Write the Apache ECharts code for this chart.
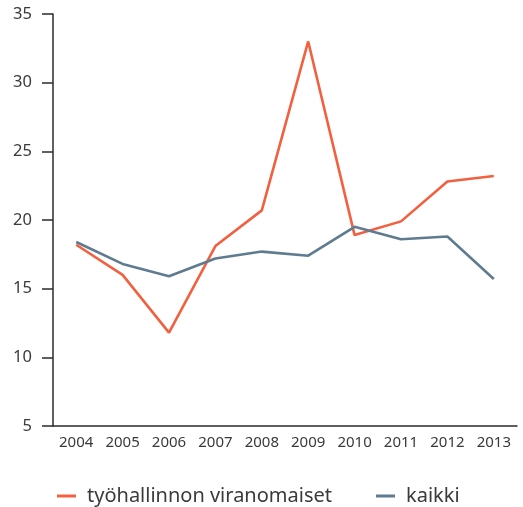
<!DOCTYPE html>
<html>
<head>
<meta charset="utf-8">
<script src="https://cdn.jsdelivr.net/npm/echarts@6/dist/echarts.min.js"></script>
<style>
  html, body { margin: 0; padding: 0; background: #fff; }
  #chart { width: 523px; height: 507px; }
</style>
</head>
<body>
<div id="chart"></div>
<script>
// 年份 & 两条序列
const years = ['2004', '2005', '2006', '2007', '2008', '2009', '2010', '2011', '2012', '2013'];
const viranomaiset = [18.2, 16.0, 11.8, 18.1, 20.7, 33.0, 18.9, 19.9, 22.8, 23.2];
const kaikki = [18.4, 16.8, 15.9, 17.2, 17.7, 17.4, 19.5, 18.6, 18.8, 15.7];

const ORANGE = '#f2603f', SLATE = '#5f7b90';
const AXIS = '#2b2b2b', TEXT = '#3a3a3a';
const FONT = '"Noto Sans", "Open Sans", sans-serif';

const chart = echarts.init(document.getElementById('chart'), null, { renderer: 'canvas' });
chart.setOption({
  animation: false,
  grid: { left: 53, right: 6, top: 14, bottom: 81, containLabel: false },
  legend: {
    left: 52, top: 481,
    itemWidth: 19, itemHeight: 3, itemGap: 44,
    icon: 'rect',
    textStyle: { color: TEXT, fontSize: 20, fontFamily: FONT, padding: [0, 0, 0, 6] },
    data: [
      { name: 'työhallinnon viranomaiset', itemStyle: { color: ORANGE } },
      { name: 'kaikki', itemStyle: { color: SLATE } },
    ],
  },
  xAxis: {
    type: 'category', data: years, boundaryGap: true,
    axisLine: { lineStyle: { color: AXIS, width: 1.5 } },
    axisTick: { inside: true, length: 10, lineStyle: { color: AXIS, width: 1.5 } },
    axisLabel: { color: TEXT, fontSize: 15, fontFamily: FONT, margin: 9 },
    splitLine: { show: false },
  },
  yAxis: {
    type: 'value', min: 5, max: 35, interval: 5,
    axisLine: { show: true, lineStyle: { color: AXIS, width: 1.5 } },
    axisTick: { show: true, length: 11, lineStyle: { color: AXIS, width: 1.5 } },
    axisLabel: { color: TEXT, fontSize: 16.5, fontFamily: FONT, margin: 21 },
    splitLine: { show: false },
  },
  series: [
    { name: 'työhallinnon viranomaiset', type: 'line', data: viranomaiset, symbol: 'none',
      lineStyle: { color: ORANGE, width: 2.6 }, itemStyle: { color: ORANGE } },
    { name: 'kaikki', type: 'line', data: kaikki, symbol: 'none',
      lineStyle: { color: SLATE, width: 2.6 }, itemStyle: { color: SLATE } },
  ],
});
</script>
</body>
</html>
